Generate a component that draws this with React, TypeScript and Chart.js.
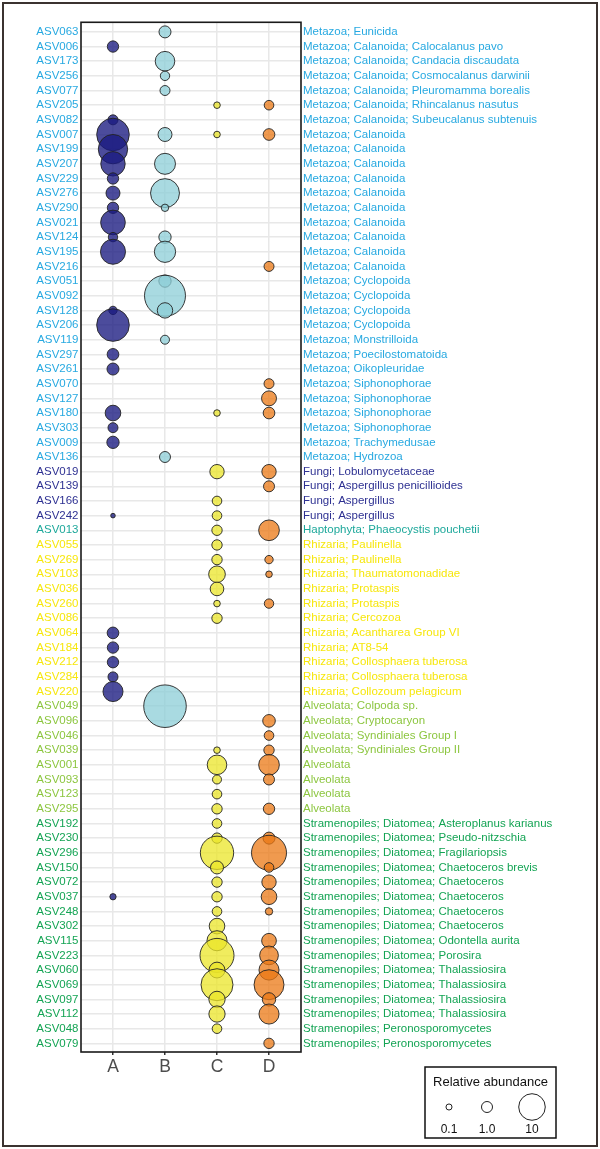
import React, { useEffect, useRef } from "react";
import { Chart, registerables } from "chart.js";

Chart.register(...registerables);

const columns = ["A", "B", "C", "D"];

const asvIds = [
  "ASV063", "ASV006", "ASV173", "ASV256", "ASV077", "ASV205", "ASV082", "ASV007", "ASV199", "ASV207",
  "ASV229", "ASV276", "ASV290", "ASV021", "ASV124", "ASV195", "ASV216", "ASV051", "ASV092", "ASV128",
  "ASV206", "ASV119", "ASV297", "ASV261", "ASV070", "ASV127", "ASV180", "ASV303", "ASV009", "ASV136",
  "ASV019", "ASV139", "ASV166", "ASV242", "ASV013", "ASV055", "ASV269", "ASV103", "ASV036", "ASV260",
  "ASV086", "ASV064", "ASV184", "ASV212", "ASV284", "ASV220", "ASV049", "ASV096", "ASV046", "ASV039",
  "ASV001", "ASV093", "ASV123", "ASV295", "ASV192", "ASV230", "ASV296", "ASV150", "ASV072", "ASV037",
  "ASV248", "ASV302", "ASV115", "ASV223", "ASV060", "ASV069", "ASV097", "ASV112", "ASV048", "ASV079",
];

const taxonomy = [
  "Metazoa; Eunicida",
  "Metazoa; Calanoida; Calocalanus pavo",
  "Metazoa; Calanoida; Candacia discaudata",
  "Metazoa; Calanoida; Cosmocalanus darwinii",
  "Metazoa; Calanoida; Pleuromamma borealis",
  "Metazoa; Calanoida; Rhincalanus nasutus",
  "Metazoa; Calanoida; Subeucalanus subtenuis",
  "Metazoa; Calanoida",
  "Metazoa; Calanoida",
  "Metazoa; Calanoida",
  "Metazoa; Calanoida",
  "Metazoa; Calanoida",
  "Metazoa; Calanoida",
  "Metazoa; Calanoida",
  "Metazoa; Calanoida",
  "Metazoa; Calanoida",
  "Metazoa; Calanoida",
  "Metazoa; Cyclopoida",
  "Metazoa; Cyclopoida",
  "Metazoa; Cyclopoida",
  "Metazoa; Cyclopoida",
  "Metazoa; Monstrilloida",
  "Metazoa; Poecilostomatoida",
  "Metazoa; Oikopleuridae",
  "Metazoa; Siphonophorae",
  "Metazoa; Siphonophorae",
  "Metazoa; Siphonophorae",
  "Metazoa; Siphonophorae",
  "Metazoa; Trachymedusae",
  "Metazoa; Hydrozoa",
  "Fungi; Lobulomycetaceae",
  "Fungi; Aspergillus penicillioides",
  "Fungi; Aspergillus",
  "Fungi; Aspergillus",
  "Haptophyta; Phaeocystis pouchetii",
  "Rhizaria; Paulinella",
  "Rhizaria; Paulinella",
  "Rhizaria; Thaumatomonadidae",
  "Rhizaria; Protaspis",
  "Rhizaria; Protaspis",
  "Rhizaria; Cercozoa",
  "Rhizaria; Acantharea Group VI",
  "Rhizaria; AT8-54",
  "Rhizaria; Collosphaera tuberosa",
  "Rhizaria; Collosphaera tuberosa",
  "Rhizaria; Collozoum pelagicum",
  "Alveolata; Colpoda sp.",
  "Alveolata; Cryptocaryon",
  "Alveolata; Syndiniales Group I",
  "Alveolata; Syndiniales Group II",
  "Alveolata",
  "Alveolata",
  "Alveolata",
  "Alveolata",
  "Stramenopiles; Diatomea; Asteroplanus karianus",
  "Stramenopiles; Diatomea; Pseudo-nitzschia",
  "Stramenopiles; Diatomea; Fragilariopsis",
  "Stramenopiles; Diatomea; Chaetoceros brevis",
  "Stramenopiles; Diatomea; Chaetoceros",
  "Stramenopiles; Diatomea; Chaetoceros",
  "Stramenopiles; Diatomea; Chaetoceros",
  "Stramenopiles; Diatomea; Chaetoceros",
  "Stramenopiles; Diatomea; Odontella aurita",
  "Stramenopiles; Diatomea; Porosira",
  "Stramenopiles; Diatomea; Thalassiosira",
  "Stramenopiles; Diatomea; Thalassiosira",
  "Stramenopiles; Diatomea; Thalassiosira",
  "Stramenopiles; Diatomea; Thalassiosira",
  "Stramenopiles; Peronosporomycetes",
  "Stramenopiles; Peronosporomycetes",
];

const _ = null;

// Relative abundance per sample column, one entry per ASV row (null = absent)
const valuesA = [
  _, 1.1, _, _, _, _, 0.74, 16, 12.6, 8.2,
  1.1, 2.0, 1.1, 8.4, 0.6, 8.7, _, _, _, 0.4,
  16, _, 1.2, 1.3, _, _, 2.7, 0.74, 1.4, _,
  _, _, _, 0.012, _, _, _, _, _, _,
  _, 1.2, 1.1, 1.1, 0.74, 5.1, _, _, _, _,
  _, _, _, _, _, _, _, _, _, 0.12,
  _, _, _, _, _, _, _, _, _, _,
];
const valuesB = [
  1.3, _, 4.8, 0.6, 0.74, _, _, 2.0, _, 5.7,
  _, 12.2, 0.25, _, 1.4, 5.9, _, 1.4, 26.7, 2.6,
  _, 0.52, _, _, _, _, _, _, _, 1.0,
  _, _, _, _, _, _, _, _, _, _,
  _, _, _, _, _, _, 29, _, _, _,
  _, _, _, _, _, _, _, _, _, _,
  _, _, _, _, _, _, _, _, _, _,
];
const valuesC = [
  _, _, _, _, _, 0.15, _, 0.15, _, _,
  _, _, _, _, _, _, _, _, _, _,
  _, _, _, _, _, _, 0.15, _, _, _,
  2.15, _, 0.65, 0.65, 0.83, 0.83, 0.83, 3.2, 1.87, 0.15,
  0.83, _, _, _, _, _, _, _, _, 0.15,
  4.8, 0.52, 0.65, 0.83, 0.65, 0.83, 16.8, 1.63, 0.83, 0.83,
  0.65, 2.7, 5.1, 17.6, 2.8, 15.3, 3.0, 3.0, 0.65, _,
];
const valuesD = [
  _, _, _, _, _, 0.65, _, 1.2, _, _,
  _, _, _, _, _, _, 0.74, _, _, _,
  _, _, _, _, 0.74, 2.4, 1.2, _, _, _,
  2.15, 1.0, _, _, 5.5, _, 0.4, 0.15, _, 0.6,
  _, _, _, _, _, _, _, 1.5, 0.65, 0.83,
  5.5, 1.0, _, 1.1, _, 1.3, 18.8, 0.65, 2.15, 2.7,
  0.25, _, 2.3, 4.3, 5.1, 13.2, 1.77, 5.1, _, 0.83,
];

const legendValues = [0.1, 1.0, 10];
const legendLabels = ["0.1", "1.0", "10"];

const columnFills = [
  "rgba(25,25,128,0.78)",
  "rgba(140,205,215,0.75)",
  "rgba(235,230,40,0.75)",
  "rgba(235,120,20,0.75)",
];

const groupColors: Record<string, string> = {
  Metazoa: "#27a9e1",
  Fungi: "#2e3192",
  Haptophyta: "#1da89b",
  Rhizaria: "#f7e70c",
  Alveolata: "#8cc63f",
  Stramenopiles: "#14a454",
};

const FONT = "'Liberation Sans', Arial, Helvetica, sans-serif";

// size scale: radius (px) from relative abundance
const radiusFor = (v: number) => 1.9 + 3.6 * Math.sqrt(v);

const rowColor = (i: number) => groupColors[taxonomy[i].split(";")[0]] || "#000";

const W = 600;
const H = 1149;
const PLOT_LEFT = 81;
const PLOT_RIGHT = 301;
const PLOT_TOP = 13;
const PLOT_BOTTOM = 1052;

export default function App() {
  const ref = useRef<HTMLCanvasElement | null>(null);

  useEffect(() => {
    if (!ref.current) return;
    const series = [valuesA, valuesB, valuesC, valuesD];
    const datasets = series.map((vals, ci) => ({
      label: columns[ci],
      data: vals
        .map((v, i) => (v == null ? null : { x: ci, y: i, r: radiusFor(v as number) }))
        .filter((d) => d !== null),
      backgroundColor: columnFills[ci],
      borderColor: "rgba(35,35,35,0.9)",
      borderWidth: 1,
    }));

    const rowTicks = (scale: any) => {
      scale.ticks = asvIds.map((_a, i) => ({ value: i }));
    };

    const framePlugin = {
      id: "frameAndLegend",
      afterDatasetsDraw(chart: any) {
        const ctx = chart.ctx;
        const a = chart.chartArea;
        ctx.save();
        ctx.strokeStyle = "#1a1a1a";
        ctx.lineWidth = 1.6;
        ctx.strokeRect(a.left, a.top, a.right - a.left, a.bottom - a.top);
        ctx.restore();
      },
      afterDraw(chart: any) {
        const ctx = chart.ctx;
        ctx.save();
        // outer frame
        ctx.strokeStyle = "#3b3330";
        ctx.lineWidth = 2;
        ctx.strokeRect(3, 3, W - 6, H - 6);
        // size legend
        const lx = 425, ly = 1067, lw = 131, lh = 71;
        ctx.strokeStyle = "#111";
        ctx.lineWidth = 1.5;
        ctx.strokeRect(lx, ly, lw, lh);
        ctx.fillStyle = "#111";
        ctx.font = `13px ${FONT}`;
        ctx.textAlign = "center";
        ctx.textBaseline = "middle";
        ctx.fillText("Relative abundance", lx + lw / 2, 1082);
        const xs = [449, 487, 532];
        legendValues.forEach((v, k) => {
          ctx.beginPath();
          ctx.arc(xs[k], 1107, radiusFor(v), 0, Math.PI * 2);
          ctx.fillStyle = "#fff";
          ctx.fill();
          ctx.strokeStyle = "#222";
          ctx.lineWidth = 1;
          ctx.stroke();
          ctx.fillStyle = "#111";
          ctx.font = `12px ${FONT}`;
          ctx.fillText(legendLabels[k], xs[k], 1130);
        });
        ctx.restore();
      },
    };

    const chart = new Chart(ref.current, {
      type: "bubble",
      data: { datasets: datasets as any },
      options: {
        animation: false,
        responsive: false,
        events: [],
        layout: { padding: { left: 0, right: 0, top: PLOT_TOP, bottom: 0 } },
        plugins: { legend: { display: false }, tooltip: { enabled: false } },
        scales: {
          x: {
            type: "linear",
            position: "bottom",
            min: -0.615,
            max: 3.615,
            afterBuildTicks: (scale: any) => {
              scale.ticks = columns.map((_c, i) => ({ value: i }));
            },
            afterFit: (scale: any) => {
              scale.height = H - PLOT_BOTTOM;
            },
            ticks: {
              autoSkip: false,
              maxRotation: 0,
              padding: 2,
              color: "#4d4d4d",
              font: { family: FONT, size: 17.5 },
              callback: (v: any) => columns[v as number] ?? "",
            },
            grid: {
              color: "#e8e8e8",
              lineWidth: 1.5,
              tickColor: "#333",
              tickLength: 3,
            },
            border: { display: false },
          },
          y: {
            type: "linear",
            position: "left",
            reverse: true,
            min: -0.655,
            max: 69.59,
            afterBuildTicks: rowTicks,
            afterFit: (scale: any) => {
              scale.width = PLOT_LEFT;
            },
            ticks: {
              autoSkip: false,
              padding: 2.5,
              font: { family: FONT, size: 11.5 },
              color: (c: any) => rowColor(c.index),
              callback: (v: any) => asvIds[v as number] ?? "",
            },
            grid: {
              color: "#e8e8e8",
              lineWidth: 1.5,
              drawTicks: false,
            },
            border: { display: false },
          },
          y2: {
            type: "linear",
            position: "right",
            reverse: true,
            min: -0.655,
            max: 69.59,
            afterBuildTicks: rowTicks,
            afterFit: (scale: any) => {
              scale.width = W - PLOT_RIGHT;
            },
            ticks: {
              autoSkip: false,
              padding: 2,
              font: { family: FONT, size: 11.5 },
              color: (c: any) => rowColor(c.index),
              callback: (v: any) => taxonomy[v as number] ?? "",
            },
            grid: { display: false, drawTicks: false },
            border: { display: false },
          },
        },
      },
      plugins: [framePlugin],
    } as any);

    return () => chart.destroy();
  }, []);

  return (
    <div style={{ position: "fixed", left: 0, top: 0, width: W, height: H, background: "#fff" }}>
      <canvas ref={ref} width={W} height={H} style={{ width: W, height: H, display: "block" }} />
    </div>
  );
}
